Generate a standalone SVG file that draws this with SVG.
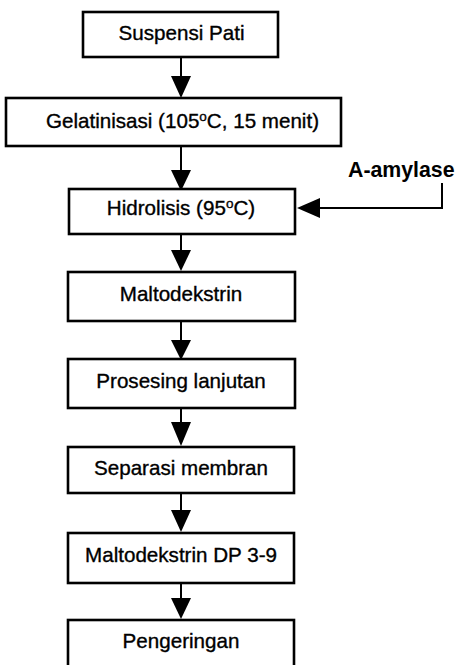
<svg xmlns="http://www.w3.org/2000/svg" width="456" height="665" viewBox="0 0 456 665">
<defs>
<style>
.box{fill:#fff;stroke:#000;stroke-width:2.6}
.t{font-family:"Liberation Sans",Arial,sans-serif;font-size:20.6px;fill:#000;text-anchor:middle;stroke:#000;stroke-width:0.35}
.lbl{font-family:"Liberation Sans",Arial,sans-serif;font-size:21.3px;font-weight:bold;fill:#000}
.ln{stroke:#000;stroke-width:2;fill:none}
.hd{fill:#000}
</style>
</defs>
<rect width="456" height="665" fill="#fff"/>
<g id="connectors">
<line class="ln" x1="181" y1="57" x2="181" y2="78"/><polygon class="hd" points="171,76 191,76 181,98"/>
<line class="ln" x1="181" y1="146" x2="181" y2="172"/><polygon class="hd" points="171,170 191,170 181,191"/>
<line class="ln" x1="181" y1="234" x2="181" y2="252"/><polygon class="hd" points="171,250 191,250 181,271"/>
<line class="ln" x1="181" y1="321" x2="181" y2="342"/><polygon class="hd" points="171,340 191,340 181,360"/>
<line class="ln" x1="181" y1="408" x2="181" y2="424"/><polygon class="hd" points="171,422 191,422 181,446"/>
<line class="ln" x1="181" y1="493" x2="181" y2="512"/><polygon class="hd" points="171,510 191,510 181,532"/>
<line class="ln" x1="181" y1="583" x2="181" y2="600"/><polygon class="hd" points="171,598 191,598 181,619"/>
<polyline class="ln" points="442,183 442,208 318,208"/><polygon class="hd" points="320,198 320,218 297,208"/>
</g>
<g id="n1"><rect class="box" x="83" y="12" width="195" height="45"/><text class="t" x="181.5" y="40">Suspensi Pati</text></g>
<g id="n2"><rect class="box" x="6" y="98" width="335" height="48"/><text class="t" x="182.5" y="128">Gelatinisasi (105<tspan font-size="13.5" dy="-7">o</tspan><tspan dy="7">C, 15 menit)</tspan></text></g>
<g id="n3"><rect class="box" x="69" y="189" width="226" height="45"/><text class="t" x="181" y="215">Hidrolisis (95<tspan font-size="13.5" dy="-7">o</tspan><tspan dy="7">C)</tspan></text></g>
<g id="lblA"><text class="lbl" x="348" y="177">A-amylase</text></g>
<g id="n4"><rect class="box" x="68" y="272" width="227" height="49"/><text class="t" x="181" y="301">Maltodekstrin</text></g>
<g id="n5"><rect class="box" x="68" y="359" width="227" height="49"/><text class="t" x="181" y="388">Prosesing lanjutan</text></g>
<g id="n6"><rect class="box" x="68" y="447" width="226" height="46"/><text class="t" x="181" y="475">Separasi membran</text></g>
<g id="n7"><rect class="box" x="68" y="533" width="226" height="50"/><text class="t" x="181" y="562">Maltodekstrin DP 3-9</text></g>
<g id="n8"><rect class="box" x="68" y="620" width="226" height="60"/><text class="t" x="181" y="648">Pengeringan</text></g>
</svg>
